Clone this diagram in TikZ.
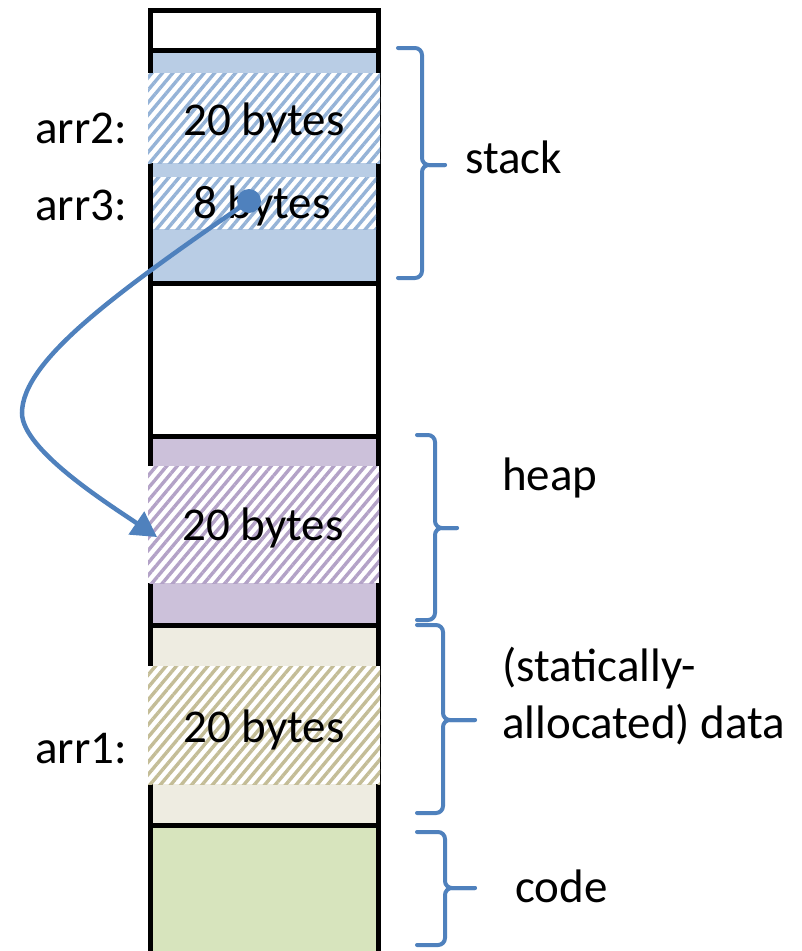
\documentclass[tikz,border=0pt]{standalone}
\usepackage{fontspec}
\setmainfont{Carlito}
\usetikzlibrary{positioning,arrows.meta,patterns.meta}
\definecolor{stackfill}{HTML}{B9CDE5}
\definecolor{stackhatch}{HTML}{95B3D7}
\definecolor{heapfill}{HTML}{CCC1DA}
\definecolor{heaphatch}{HTML}{B3A2C7}
\definecolor{datafill}{HTML}{EEECE1}
\definecolor{datahatch}{HTML}{C4BD97}
\definecolor{codefill}{HTML}{D7E4BD}
\definecolor{ptrblue}{HTML}{4F81BD}

\begin{document}
\begin{tikzpicture}[x=1pt,y=-1pt,
hatchblk/.style={draw=none,rectangle,inner sep=0pt,preaction={fill=white},
    pattern={Lines[angle=50,distance=8pt,line width=3.4pt]},pattern color=#1},
lbl/.style={inner sep=0pt,font=\fontsize{47}{57}\selectfont},
brc/.style={draw=ptrblue,line width=4pt,rounded corners=7pt,line cap=round},
frame/.style={line width=5pt}]
\useasboundingbox (0,0) rectangle (801,951);

% segment fills
\fill[stackfill] (150,50) rectangle (379,283);
\fill[heapfill] (150,436) rectangle (379,625);
\fill[datafill] (150,625) rectangle (379,825);
\fill[codefill] (150,825) rectangle (379,951);

% memory column
\draw[frame] (150.5,951) -- (150.5,10) -- (378.5,10) -- (378.5,951);
\foreach \y in {50,283,436,625,825}
    \draw[frame] (150,\y) -- (379,\y);

% buffers
\node (stk20) [hatchblk=stackhatch,minimum width=232pt,minimum height=90pt] at (264,118) {};
\node (stk8) [hatchblk=stackhatch,minimum width=223pt,minimum height=52pt] at (264.5,203) {};
\node (heap20) [hatchblk=heaphatch,minimum width=231pt,minimum height=117pt] at (263.5,524.5) {};
\node (data20) [hatchblk=datahatch,minimum width=232pt,minimum height=118pt] at (264,725) {};

\node (stk20txt) [lbl,anchor=base] at (264,135) {20 bytes};
\node (stk8txt) [lbl,anchor=base] at (262,218) {8 bytes};
\node (heap20txt) [lbl,anchor=base] at (263,540) {20 bytes};
\node (data20txt) [lbl,anchor=base] at (264,742) {20 bytes};

\node (arr2) [lbl,anchor=base east] at (127,143) {arr2:};
\node (arr3) [lbl,anchor=base east] at (127,220) {arr3:};
\node (arr1) [lbl,anchor=base east] at (127,763) {arr1:};

% braces
\draw[brc] (398,48) -- (422,48) -- (422,165) -- (445,165);
\draw[brc] (398,278) -- (422,278) -- (422,165) -- (445,165);
\draw[brc] (417,435) -- (435,435) -- (435,528) -- (457,528);
\draw[brc] (417,620) -- (435,620) -- (435,528) -- (457,528);
\draw[brc] (417,625) -- (443,625) -- (443,720) -- (475,720);
\draw[brc] (417,813) -- (443,813) -- (443,720) -- (475,720);
\draw[brc] (417,832) -- (445,832) -- (445,888) -- (475,888);
\draw[brc] (417,945) -- (445,945) -- (445,888) -- (475,888);

\node (stack) [lbl,anchor=base west] at (465,173) {stack};
\node (heap) [lbl,anchor=base west] at (502,490) {heap};
\node (data) [lbl,anchor=west,align=left] at (502,696) {(statically-\\allocated) data};
\node (code) [lbl,anchor=base west] at (515,902) {code};

% pointer
\node (ptr) [circle,fill=ptrblue,minimum size=24pt,inner sep=0pt] at (249,201) {};
\coordinate (ptrend) at (157,537);
\draw[ptrblue,line width=4.5pt,-{Triangle[length=25pt,width=27pt]}]
    (ptr.center) .. controls (120,290) and (22,360) .. (22,413)
    .. controls (22,450) and (110,505) .. (ptrend);
\end{tikzpicture}
\end{document}
